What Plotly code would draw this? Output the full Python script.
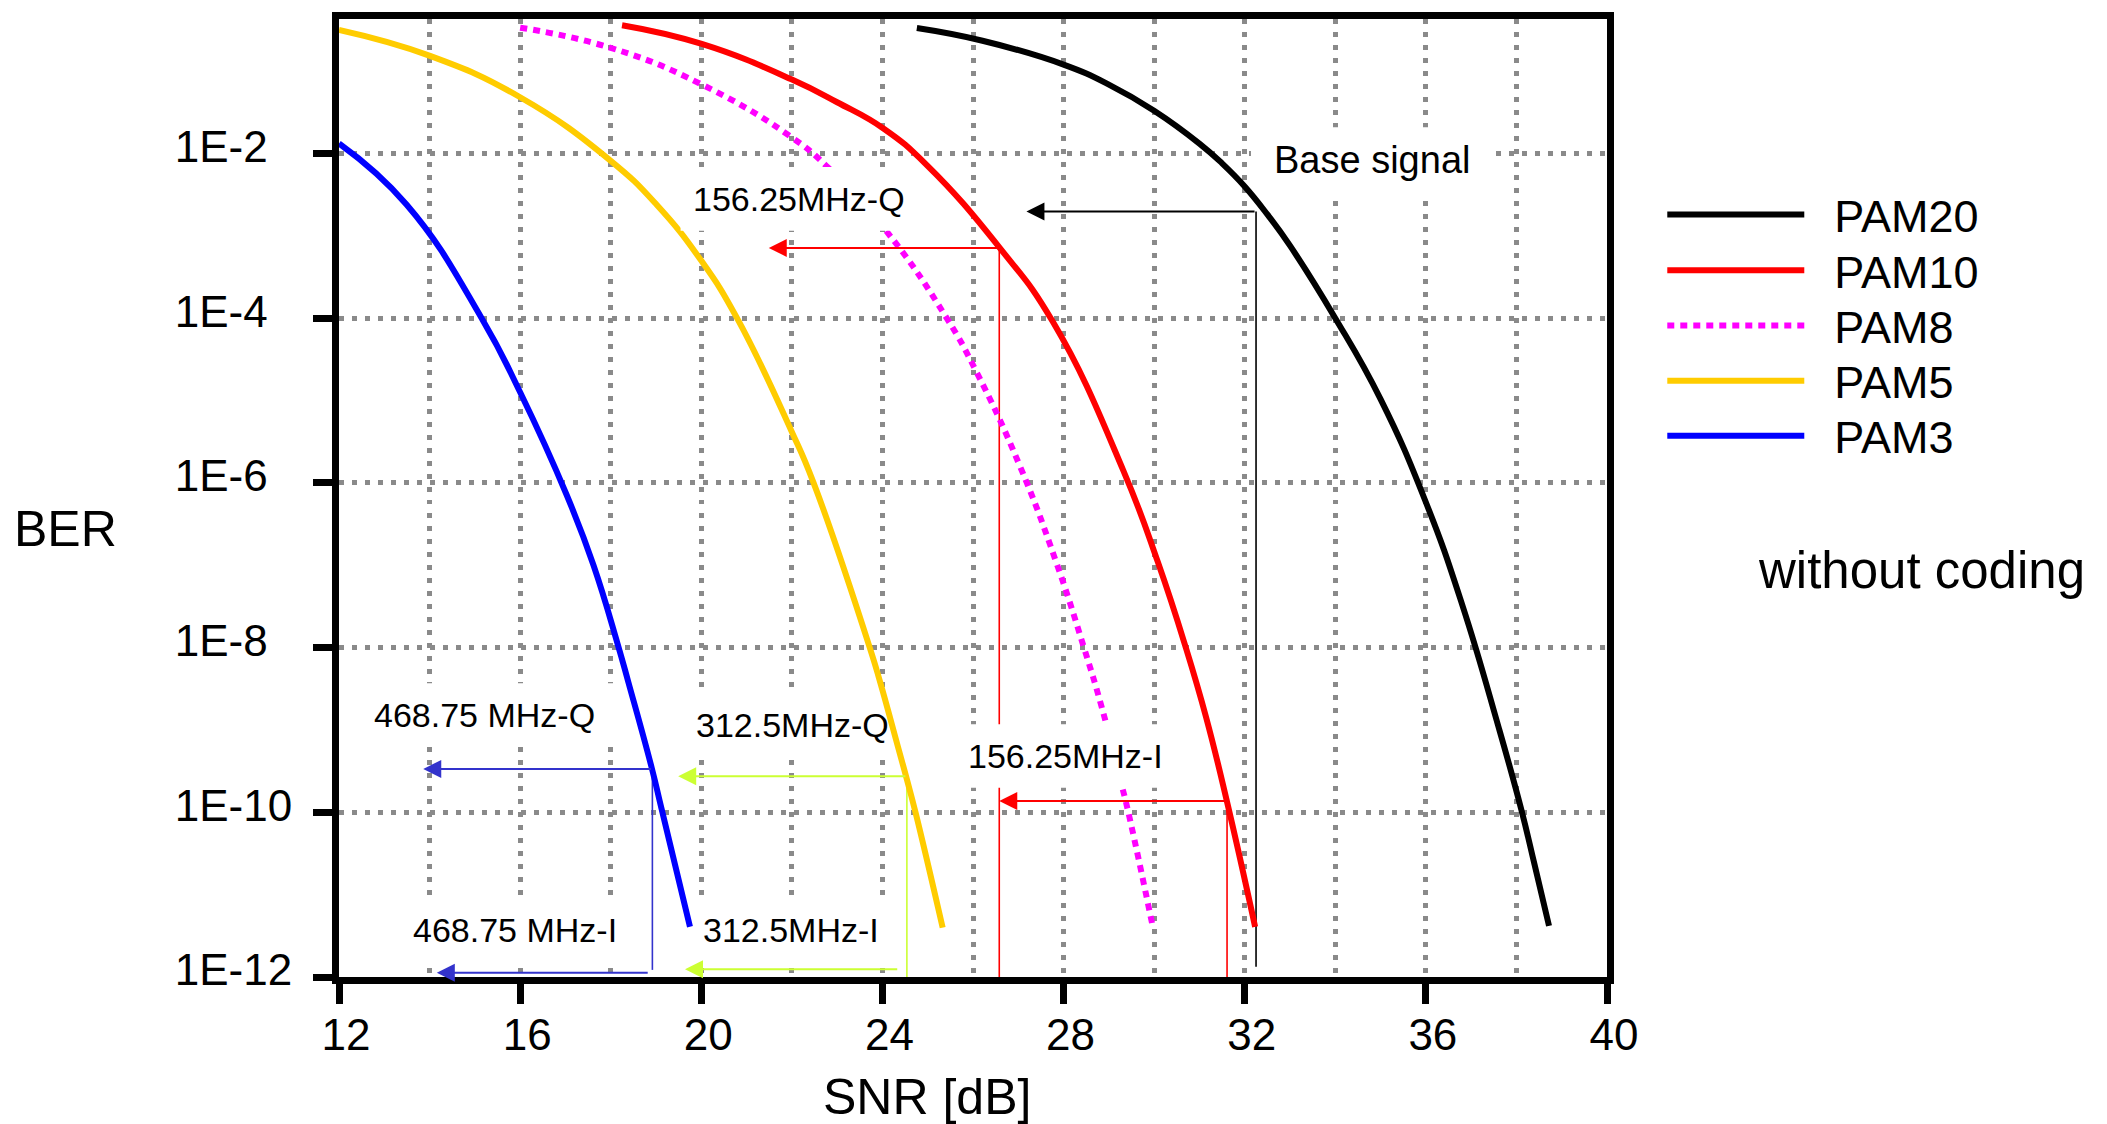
import numpy as np
import plotly.graph_objects as go

FONT = "Liberation Sans, Arial, Helvetica, sans-serif"
NB = "\u00a0"

# ---- BER curves (SNR in dB, BER) -------------------------------------------
pam20_snr = [24.76, 26.21, 28.0, 29.0, 30.0, 31.0, 31.5, 32.0, 32.5, 33.0, 34.0, 35.0, 36.0, 36.8, 37.6, 38.1, 38.4, 38.72]
pam20_ber = [0.334, 0.234, 0.120, 0.0687, 0.0331, 0.0132, 7.59e-3, 3.98e-3, 1.82e-3, 7.59e-4, 1.0e-4, 1.04e-5, 5.82e-7, 3.35e-8, 1.11e-9, 1.12e-10, 2.32e-11, 4.17e-12]

pam10_snr = [18.25, 20.01, 21.99, 23.0, 24.03, 24.98, 26.59, 27.77, 29.32, 30.08, 30.70, 31.15, 31.60, 32.23]
pam10_ber = [0.361, 0.214, 0.0796, 0.0419, 0.0200, 7.23e-3, 7.14e-4, 8.91e-5, 1.41e-6, 1.10e-7, 1.0e-8, 1.41e-9, 1.41e-10, 4.07e-12]

pam8_snr = [16.0, 17.98, 20.0, 21.99, 22.76, 24.06, 25.42, 26.08, 27.04, 27.83, 28.45, 28.84, 29.26, 29.43, 29.97]
pam8_ber = [0.337, 0.193, 0.0692, 0.0158, 7.08e-3, 1.19e-3, 1.0e-4, 2.21e-5, 1.58e-6, 1.12e-7, 1.0e-8, 1.91e-9, 2.40e-10, 1.0e-10, 4.07e-12]

pam5_snr = [12.0, 14.01, 16.0, 17.98, 19.01, 20.01, 20.79, 21.99, 22.48, 23.72, 23.95, 24.35, 24.54, 24.73, 25.33]
pam5_ber = [0.316, 0.153, 0.0482, 8.32e-3, 2.40e-3, 4.90e-4, 1.0e-4, 4.27e-6, 1.0e-6, 1.0e-8, 3.80e-9, 6.03e-10, 2.51e-10, 1.0e-10, 3.98e-12]

pam3_snr = [12.0, 13.49, 15.15, 16.0, 17.03, 17.62, 18.15, 18.39, 18.91, 19.12, 19.75]
pam3_ber = [0.0132, 2.40e-3, 1.0e-4, 1.26e-5, 7.08e-7, 1.0e-7, 1.12e-8, 3.80e-9, 3.39e-10, 1.12e-10, 4.07e-12]

series_names = ["PAM20", "PAM10", "PAM8", "PAM5", "PAM3"]
series_snr = [pam20_snr, pam10_snr, pam8_snr, pam5_snr, pam3_snr]
series_ber = [pam20_ber, pam10_ber, pam8_ber, pam5_ber, pam3_ber]

# ---- required-SNR markers: horizontal arrows (tail SNR, tip SNR, BER) ------
arrow_tail_snr = [32.25, 26.58, 31.61, 18.92, 18.85, 24.54, 24.36]
arrow_tip_snr = [27.18, 21.49, 26.58, 13.86, 14.16, 19.49, 19.64]
arrow_ber = [1.97e-3, 7.14e-4, 1.37e-10, 3.36e-10, 1.13e-12, 2.74e-10, 1.24e-12]

# vertical drop lines (SNR, upper BER, lower BER)
drop_snr = [32.25, 26.58, 31.61, 18.92, 24.54]
drop_ber_top = [1.97e-3, 7.14e-4, 1.37e-10, 3.36e-10, 2.74e-10]
drop_ber_bottom = [1.33e-12, 1.0e-12, 1.0e-12, 1.22e-12, 1.0e-12]

# label texts for the markers
marker_labels = ["Base signal", "156.25MHz-Q", "156.25MHz-I", "468.75 MHz-Q",
                 "312.5MHz-Q", "468.75 MHz-I", "312.5MHz-I"]
label_snr = [34.81, 22.16, 28.05, 15.21, 22.02, 15.88, 21.98]
label_ber = [8.30e-3, 2.81e-3, 4.82e-10, 1.52e-9, 1.15e-9, 3.69e-12, 3.69e-12]

y_tick_vals = [1e-12, 1e-10, 1e-8, 1e-6, 1e-4, 1e-2]
y_tick_text = ["1E-12", "1E-10", "1E-8", "1E-6", "1E-4", "1E-2"]

# ---- geometry / styling ------------------------------------------------------
W, H = 2107, 1124
MARGIN = dict(l=339, r=500, t=13, b=147)
X_RANGE = [12, 40]
Y_RANGE = [-12, -0.367]          # log10(BER)
px_per_db = (W - MARGIN["l"] - MARGIN["r"]) / (X_RANGE[1] - X_RANGE[0])
px_per_dec = (H - MARGIN["t"] - MARGIN["b"]) / (Y_RANGE[1] - Y_RANGE[0])

curve_colors = ["#000000", "#ff0000", "#ff00ff", "#ffcc00", "#0000ff"]
curve_dash = ["solid", "solid", "7px,6px", "solid", "solid"]
arrow_colors = ["#000000", "#ff0000", "#ff0000", "#3333cc", "#3333cc", "#ccff33", "#ccff33"]
drop_colors = ["#000000", "#ff0000", "#ff0000", "#3333cc", "#ccff33"]
label_sizes = [38, 34, 34, 34, 34, 34, 34]
label_box = [(242, 66), (237, 64), (228, 64), (259, 64), (229, 64), (242, 64), (212, 64)]
label_on_top = [False, True, True, False, False, False, False]
legend_y = [0.7957, 0.7376, 0.6798, 0.6221, 0.5646]


def label_backdrop(x, ber, w, h):
    """White box (in pixels) centred on a label, expressed in axis units."""
    dx = w / 2 / px_per_db
    ly = np.log10(ber)
    dy = h / 2 / px_per_dec
    xs = [x - dx, x + dx, x + dx, x - dx, x - dx]
    ys = [10 ** (ly - dy), 10 ** (ly - dy), 10 ** (ly + dy), 10 ** (ly + dy), 10 ** (ly - dy)]
    return go.Scatter(x=xs, y=ys, mode="lines", fill="toself", fillcolor="white",
                      line=dict(width=0, color="white"), showlegend=False,
                      hoverinfo="skip")


fig = go.Figure()

# drop lines first so the curves sit on top
for x, yt, yb, c in zip(drop_snr, drop_ber_top, drop_ber_bottom, drop_colors):
    fig.add_trace(go.Scatter(x=[x, x], y=[yt, yb], mode="lines",
                             line=dict(color=c, width=1.6),
                             showlegend=False, hoverinfo="skip"))

# backdrops that only mask the grid
for x, b, (w, h), top in zip(label_snr, label_ber, label_box, label_on_top):
    if not top:
        fig.add_trace(label_backdrop(x, b, w, h))

for i, (name, sx, sy) in enumerate(zip(series_names, series_snr, series_ber)):
    fig.add_trace(go.Scatter(
        x=sx, y=sy, mode="lines", name=NB * 2 + name,
        line=dict(color=curve_colors[i], width=6, dash=curve_dash[i],
                  shape="spline", smoothing=1.3),
        legend="legend" if i == 0 else f"legend{i + 1}",
    ))

# backdrops that also mask the curves underneath
for x, b, (w, h), top in zip(label_snr, label_ber, label_box, label_on_top):
    if top:
        fig.add_trace(label_backdrop(x, b, w, h))

annotations = []
for x0, x1, b, c in zip(arrow_tail_snr, arrow_tip_snr, arrow_ber, arrow_colors):
    annotations.append(dict(
        x=x1, y=np.log10(b), ax=x0, ay=np.log10(b),
        xref="x", yref="y", axref="x", ayref="y",
        text="", showarrow=True, arrowhead=2, arrowsize=1.8,
        arrowwidth=2, arrowcolor=c, standoff=0, startstandoff=0,
    ))

for txt, x, b, fs in zip(marker_labels, label_snr, label_ber, label_sizes):
    annotations.append(dict(
        x=x, y=np.log10(b), xref="x", yref="y", text=txt, showarrow=False,
        font=dict(family=FONT, size=fs, color="black"),
        xanchor="center", yanchor="middle",
    ))

# axis titles and side note
annotations += [
    dict(x=-0.2153, y=0.468, xref="paper", yref="paper", text="BER", showarrow=False,
         font=dict(family=FONT, size=50, color="black"), xanchor="center", yanchor="middle"),
    dict(x=0.4637, y=-0.1254, xref="paper", yref="paper", text="SNR [dB]", showarrow=False,
         font=dict(family=FONT, size=50, color="black"), xanchor="center", yanchor="middle"),
    dict(x=1.2484, y=0.4243, xref="paper", yref="paper", text="without coding", showarrow=False,
         font=dict(family=FONT, size=51, color="black"), xanchor="center", yanchor="middle"),
]

grid = dict(showgrid=True, gridcolor="#8a8a8a", gridwidth=4.5, griddash="4.5px,8.5px")

legends = {}
for i, ly in enumerate(legend_y):
    key = "legend" if i == 0 else f"legend{i + 1}"
    legends[key] = dict(x=1.0436, y=ly, xanchor="left", yanchor="middle",
                        bgcolor="rgba(0,0,0,0)", borderwidth=0, itemwidth=137,
                        font=dict(family=FONT, size=45, color="black"))

# short tick labels padded so the column reads left-aligned
y_tick_labels = [t + NB * 2 * (5 - len(t)) for t in y_tick_text]

fig.update_layout(
    width=W, height=H,
    margin=MARGIN,
    paper_bgcolor="white", plot_bgcolor="white",
    font=dict(family=FONT, color="black"),
    showlegend=True,
    annotations=annotations,
    xaxis=dict(
        range=X_RANGE, tick0=12, dtick=4, ticks="outside", ticklen=20, tickwidth=7,
        tickcolor="black", showline=True, linewidth=7, linecolor="black", mirror=True,
        zeroline=False, tickfont=dict(family=FONT, size=44, color="black"),
        ticklabelshift=7, ticklabelstandoff=-7,
        minor=dict(dtick=2, ticks="", **grid), **grid,
    ),
    yaxis=dict(
        type="log", range=Y_RANGE, tickvals=y_tick_vals, ticktext=y_tick_labels,
        ticks="outside", ticklen=19, tickwidth=7, tickcolor="black",
        showline=True, linewidth=7, linecolor="black", mirror=True, zeroline=False,
        tickfont=dict(family=FONT, size=44, color="black"),
        ticklabelshift=-7, ticklabelstandoff=12, **grid,
    ),
    **legends,
)

fig.write_html("out.html")
